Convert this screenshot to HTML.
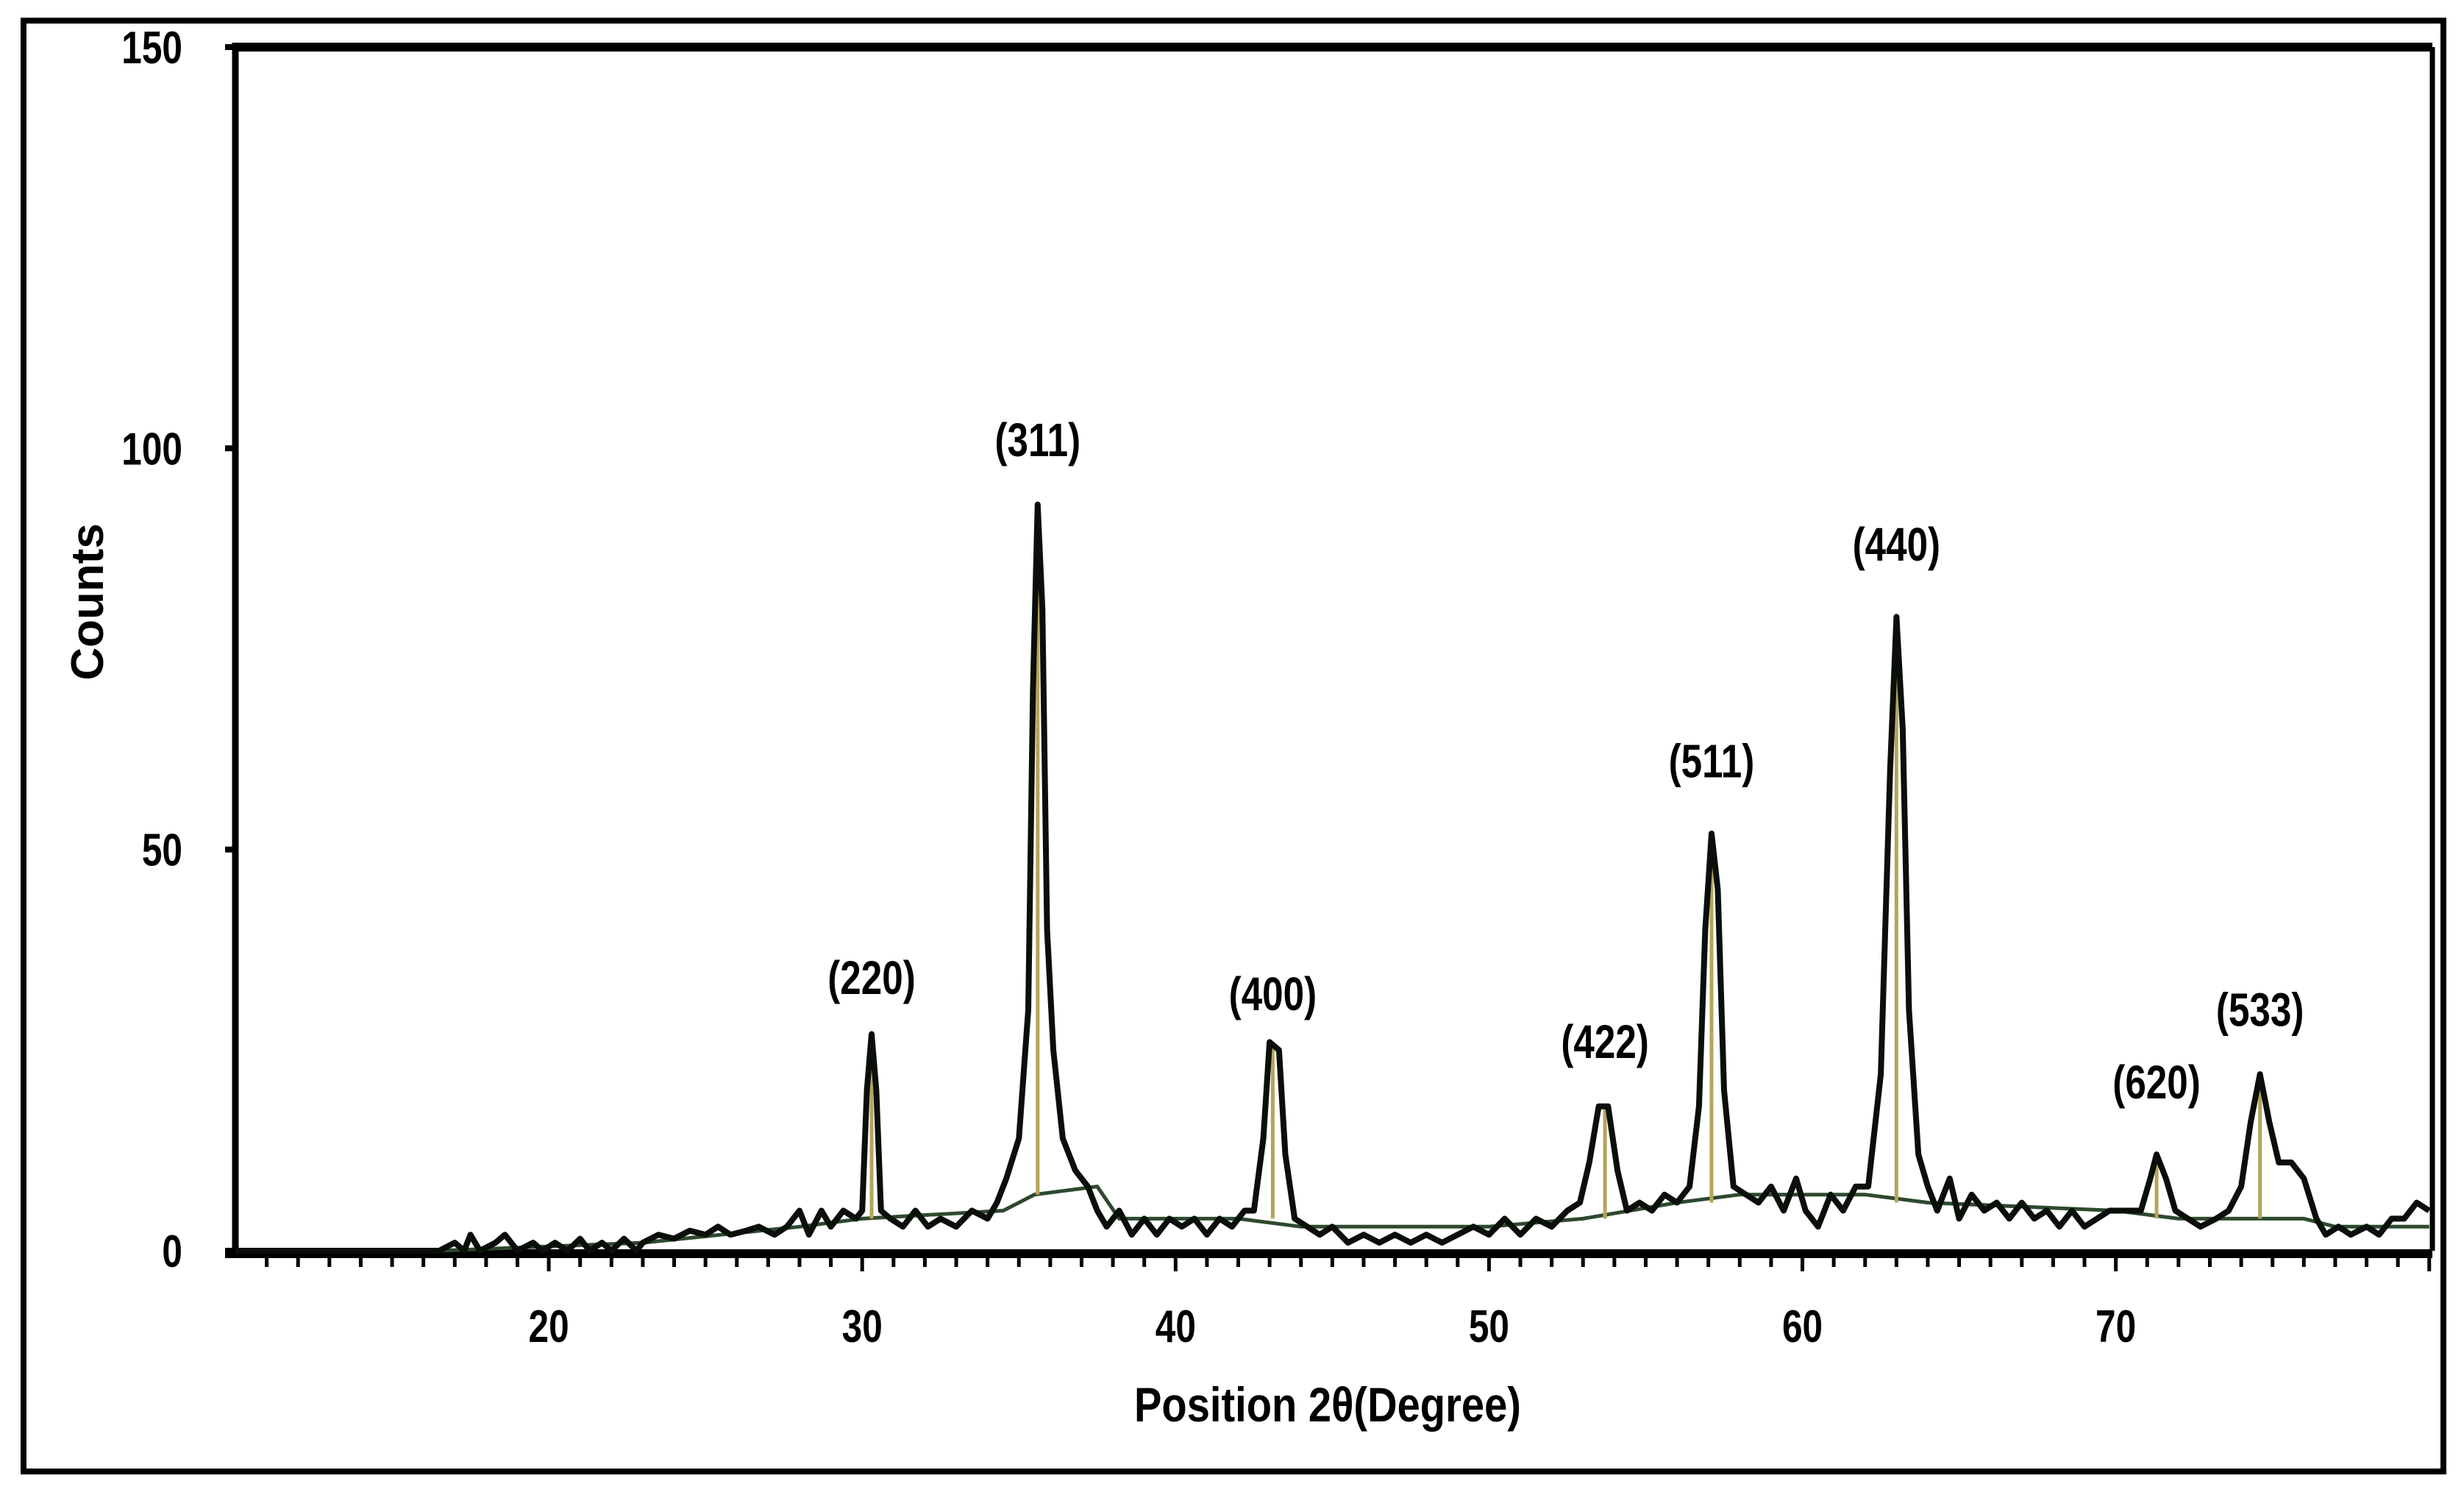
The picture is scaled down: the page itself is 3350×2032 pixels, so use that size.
<!DOCTYPE html>
<html><head><meta charset="utf-8"><style>
html,body{margin:0;padding:0;background:#fff}
svg{display:block}
text{font-family:"Liberation Sans",sans-serif;font-weight:bold;fill:#000}
</style></head><body>
<svg id="chart" width="3350" height="2032" viewBox="0 0 3350 2032" xmlns="http://www.w3.org/2000/svg">
<rect x="32" y="28" width="3290" height="1972" fill="none" stroke="#000" stroke-width="8"/>
<g id="plot"></g>
</svg>
<script>
const angles=[10,16.5,17,17.3,17.5,17.8,18.3,18.6,19,19.5,19.8,20.2,20.6,21,21.3,21.7,22,22.4,22.8,23,23.5,24,24.5,25,25.4,25.8,26.3,26.7,27.2,27.6,28,28.3,28.7,29,29.4,29.8,30.0,30.15,30.3,30.45,30.6,30.9,31.3,31.7,32.1,32.5,33,33.5,34,34.3,34.6,35.0,35.3,35.45,35.6,35.75,35.9,36.1,36.4,36.8,37.2,37.5,37.8,38.2,38.6,39,39.4,39.8,40.2,40.6,41,41.4,41.8,42.2,42.5,42.8,43.0,43.3,43.5,43.8,44.2,44.6,45,45.5,46,46.5,47,47.5,48,48.5,49,49.5,50,50.5,51,51.5,52,52.5,52.9,53.2,53.5,53.8,54.1,54.4,54.8,55.2,55.6,56,56.4,56.7,56.9,57.1,57.3,57.5,57.8,58.2,58.6,59,59.4,59.8,60.1,60.5,60.9,61.3,61.7,62.1,62.5,62.8,63.0,63.2,63.4,63.7,64,64.3,64.7,65,65.4,65.8,66.2,66.6,67,67.4,67.8,68.2,68.6,69,69.4,69.8,70.4,70.8,71.1,71.3,71.6,71.9,72.3,72.7,73.2,73.6,74.0,74.3,74.6,74.9,75.2,75.6,76,76.4,76.7,77.1,77.5,78,78.4,78.8,79.2,79.6,80];
const counts=[0,0,1,0,2,0,1,2,0,1,0,1,0,1.5,0,1,0,1.5,0,1,2,1.5,2.5,2,3,2,2.5,3,2,3,5,2,5,3,5,4,5,20,27,20,5,4,3,5,3,4,3,5,4,6,9,14,30,70,93,80,40,25,14,10,8,5,3,5,2,4,2,4,3,4,2,4,3,5,5,14,26,25,12,4,3,2,3,1,2,1,2,1,2,1,2,3,2,4,2,4,3,5,6,11,18,18,10,5,6,5,7,6,8,18,40,52,45,20,8,7,6,8,5,9,5,3,7,5,8,8,22,60,79,65,30,12,8,5,9,4,7,5,6,4,6,4,5,3,5,3,4,5,5,5,9,12,9,5,4,3,4,5,8,16,22,16,11,11,9,4,2,3,2,3,2,4,4,6,5];
const bgAngles=[16.5,23,28,30,34.5,35.5,37.5,38.2,42,44,50,53,56,58,62,64,70,72,74,76,77,80];
const bgCounts=[0,1,3,4,5,7,8,4,4,3,3,4,6,7,7,6,5,4,4,4,3,3];
const peakAngles=[30.3,35.6,43.1,53.7,57.1,63.0,71.3,74.6];
const peakCounts=[27,93,26,18,52,79,12,22];
const peakBase=[4,7,4,4,6,6,4,4];
const peakLabels=["(220)","(311)","(400)","(422)","(511)","(440)","(620)","(533)"];
const labelCounts=[32,99,30,24,59,86,19,28];
const yTicks=[0,50,100,150];
const xTicks=[20,30,40,50,60,70];
const X0=320,X1=3307,Y0=1700,Y1=64;
const xMin=10,xMax=80.1,yMax=150;
function sx(v){return X0+(v-xMin)/(xMax-xMin)*(X1-X0);}
function sy(v){return Y0-v/yMax*(Y0-Y1);}
const NS="http://www.w3.org/2000/svg";
const g=document.getElementById('plot');
function mk(tag,attrs){const e=document.createElementNS(NS,tag);for(const k in attrs)e.setAttribute(k,attrs[k]);g.appendChild(e);return e;}
let e=mk('line',{x1:X0,y1:Y1,x2:X1,y2:Y1,stroke:'#000','stroke-width':12});


e=mk('line',{x1:X1,y1:Y1,x2:X1,y2:Y0,stroke:'#000','stroke-width':7});


e=mk('line',{x1:X0,y1:Y1-6,x2:X0,y2:Y0+6,stroke:'#000','stroke-width':9});


e=mk('line',{x1:X0-14,y1:Y0+4,x2:X1,y2:Y0+4,stroke:'#000','stroke-width':12});


for(let v=11;v<=80;v++){
  const big=(v%10===0);
  e=mk('line',{x1:sx(v),y1:Y0+8,x2:sx(v),y2:Y0+(big?28:22),stroke:'#000','stroke-width':5});
  
  
}
xTicks.forEach(v=>{
  e=mk('text',{x:0,y:0,'font-size':62,'text-anchor':'middle',transform:`translate(${sx(v)},1824) scale(0.8,1)`});
  e.textContent=v;
  
  
});
yTicks.forEach(v=>{
  e=mk('line',{x1:X0-14,y1:sy(v),x2:X0,y2:sy(v),stroke:'#000','stroke-width':8});
  
  
  e=mk('text',{x:0,y:0,'font-size':62,'text-anchor':'end',transform:`translate(248,${sy(v)+22}) scale(0.8,1)`});
  e.textContent=v;
  
  
});
e=mk('text',{x:0,y:0,'font-size':62,'text-anchor':'middle',transform:'translate(140,818) rotate(-90)'});
e.textContent='Counts';


e=mk('text',{x:0,y:0,'font-size':66,'text-anchor':'middle',transform:'translate(1805,1932) scale(0.85,1)'});
e.textContent='Position 2θ(Degree)';


let d=bgAngles.map((a,i)=>(i?'L':'M')+sx(a).toFixed(1)+','+sy(bgCounts[i]).toFixed(1)).join(' ');
e=mk('path',{d:d,fill:'none',stroke:'#2e4a2e','stroke-width':5});


peakAngles.forEach((a,i)=>{
  e=mk('line',{x1:sx(a),y1:sy(peakBase[i]),x2:sx(a),y2:sy(peakCounts[i]),stroke:'#b5a45a','stroke-width':5});
  
  
});
d=angles.map((a,i)=>(i?'L':'M')+sx(a).toFixed(1)+','+sy(counts[i]).toFixed(1)).join(' ');
e=mk('path',{d:d,fill:'none',stroke:'#0a0f0a','stroke-width':8,'stroke-linejoin':'round'});


peakAngles.forEach((a,i)=>{
  e=mk('text',{x:0,y:0,'font-size':64,'text-anchor':'middle',transform:`translate(${sx(a)},${sy(labelCounts[i])}) scale(0.8,1)`});
  e.textContent=peakLabels[i];
  
  
});
</script>
</body></html>
